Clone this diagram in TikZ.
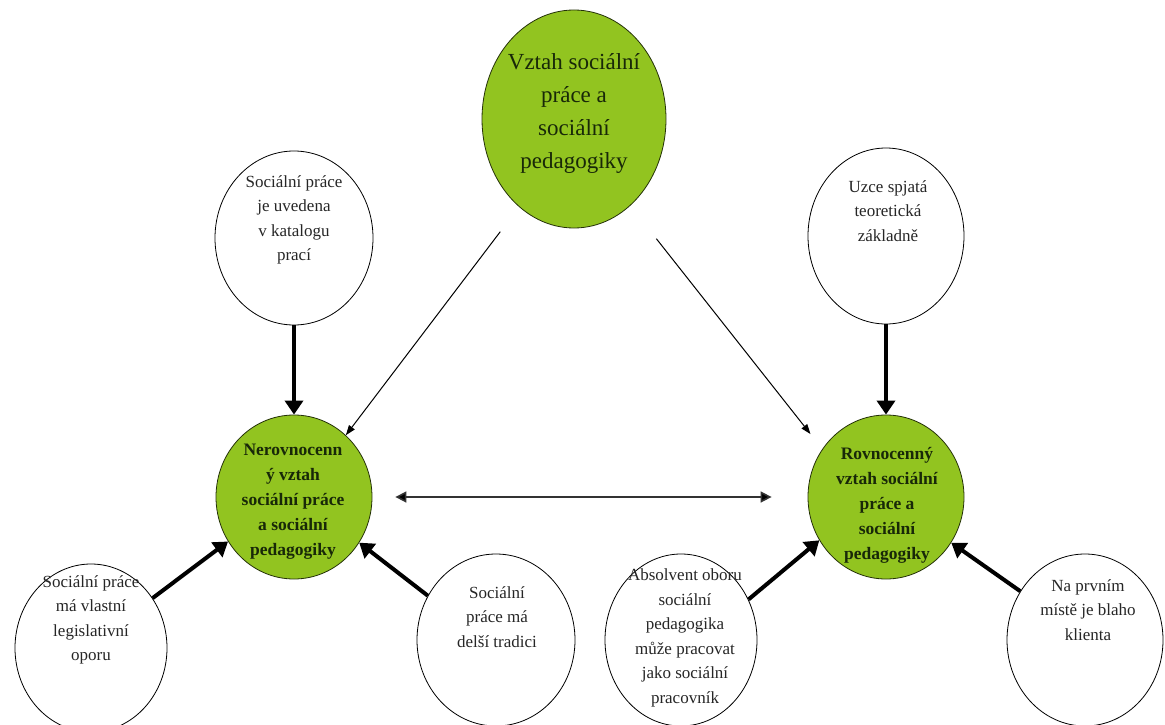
\documentclass[tikz,border=0pt]{standalone}
\usepackage{fontspec}
\setmainfont{Liberation Serif}
\usepackage{xcolor}
\usetikzlibrary{arrows.meta,positioning,shapes,calc}
\definecolor{leaf}{RGB}{146,196,32}
\definecolor{leafink}{RGB}{24,40,8}

\begin{document}
\begin{tikzpicture}[x=1pt,y=-1pt,->,>={Triangle[length=14pt,width=18pt]}]
        \tikzstyle{bubble} = [ellipse, draw, line width=0.8pt, fill=white, inner sep=0pt]
        \tikzstyle{hub} = [ellipse, draw=black!75!leaf, line width=0.8pt, fill=leaf, inner sep=0pt]
        \tikzstyle{note} = [align=center, inner sep=0pt, text=black!85, font=\fontsize{17}{24.5}\selectfont]
        \tikzstyle{hubnote} = [align=center, inner sep=0pt, text=leafink, font=\fontsize{17.5}{25}\selectfont\bfseries]
        \tikzstyle{push} = [line width=4pt]
        \tikzstyle{hint} = [line width=1pt, >={Triangle[length=10pt,width=7pt]}]
        \tikzstyle{twin} = [<->, line width=1.6pt, draw=black!80, >={Triangle[length=11pt,width=11pt]}]

        \useasboundingbox (0,0) rectangle (1165,725);

        % Nodes
        \node[hub, minimum width=184, minimum height=218] (vztah) at (574,119) {};
        \node[align=center, inner sep=0pt, text=leafink, font=\fontsize{23}{33}\selectfont] (vztah-t) at (574,113)
            {Vztah sociální\\práce a\\sociální\\pedagogiky};

        \node[bubble, minimum width=158, minimum height=174] (katalog) at (294,238) {};
        \node[note] (katalog-t) at (294,220) {Sociální práce\\je uvedena\\v katalogu\\prací};
        \node[bubble, minimum width=156, minimum height=176] (uzce) at (886,236) {};
        \node[note] (uzce-t) at (888,211) {Uzce spjatá\\teoretická\\základně};

        \node[hub, minimum width=156, minimum height=164] (nerov) at (294,497) {};
        \node[hubnote] (nerov-t) at (293,502) {Nerovnocenn\\ý vztah\\sociální práce\\a sociální\\pedagogiky};
        \node[hub, minimum width=156, minimum height=164] (rovn) at (886,497) {};
        \node[hubnote] (rovn-t) at (887,505) {Rovnocenný\\vztah sociální\\práce a\\sociální\\pedagogiky};

        \node[bubble, minimum width=152, minimum height=168] (legisl) at (91,648) {};
        \node[note] (legisl-t) at (91,620) {Sociální práce\\má vlastní\\legislativní\\oporu};
        \node[bubble, minimum width=158, minimum height=172] (tradici) at (496,640) {};
        \node[note] (tradici-t) at (497,617) {Sociální\\práce má\\delší tradici};
        \node[bubble, minimum width=152, minimum height=172] (absolv) at (681,640) {};
        \node[note] (absolv-t) at (685,638) {Absolvent oboru\\sociální\\pedagogika\\může pracovat\\jako sociální\\pracovník};
        \node[bubble, minimum width=156, minimum height=172] (klient) at (1085,640) {};
        \node[note] (klient-t) at (1088,610) {Na prvním\\místě je blaho\\klienta};

        % Edges
        \path[hint] (vztah.238) edge[shorten <=31pt] (nerov.50);
        \path[hint] (vztah.-57) edge[shorten <=42pt, shorten >=19pt] (rovn.143);
        \path[twin] (nerov) edge[shorten <=23pt, shorten >=36pt] (rovn);
        \path[push] (katalog) edge (nerov);
        \path[push] (uzce) edge (rovn);
        \path[push] (legisl.39) edge (nerov.214);
        \path[push] (tradici.147) edge (nerov.-35);
        \path[push] (absolv.31) edge (rovn.213);
        \path[push] (klient.143) edge (rovn.-35);
    \end{tikzpicture}
\end{document}
